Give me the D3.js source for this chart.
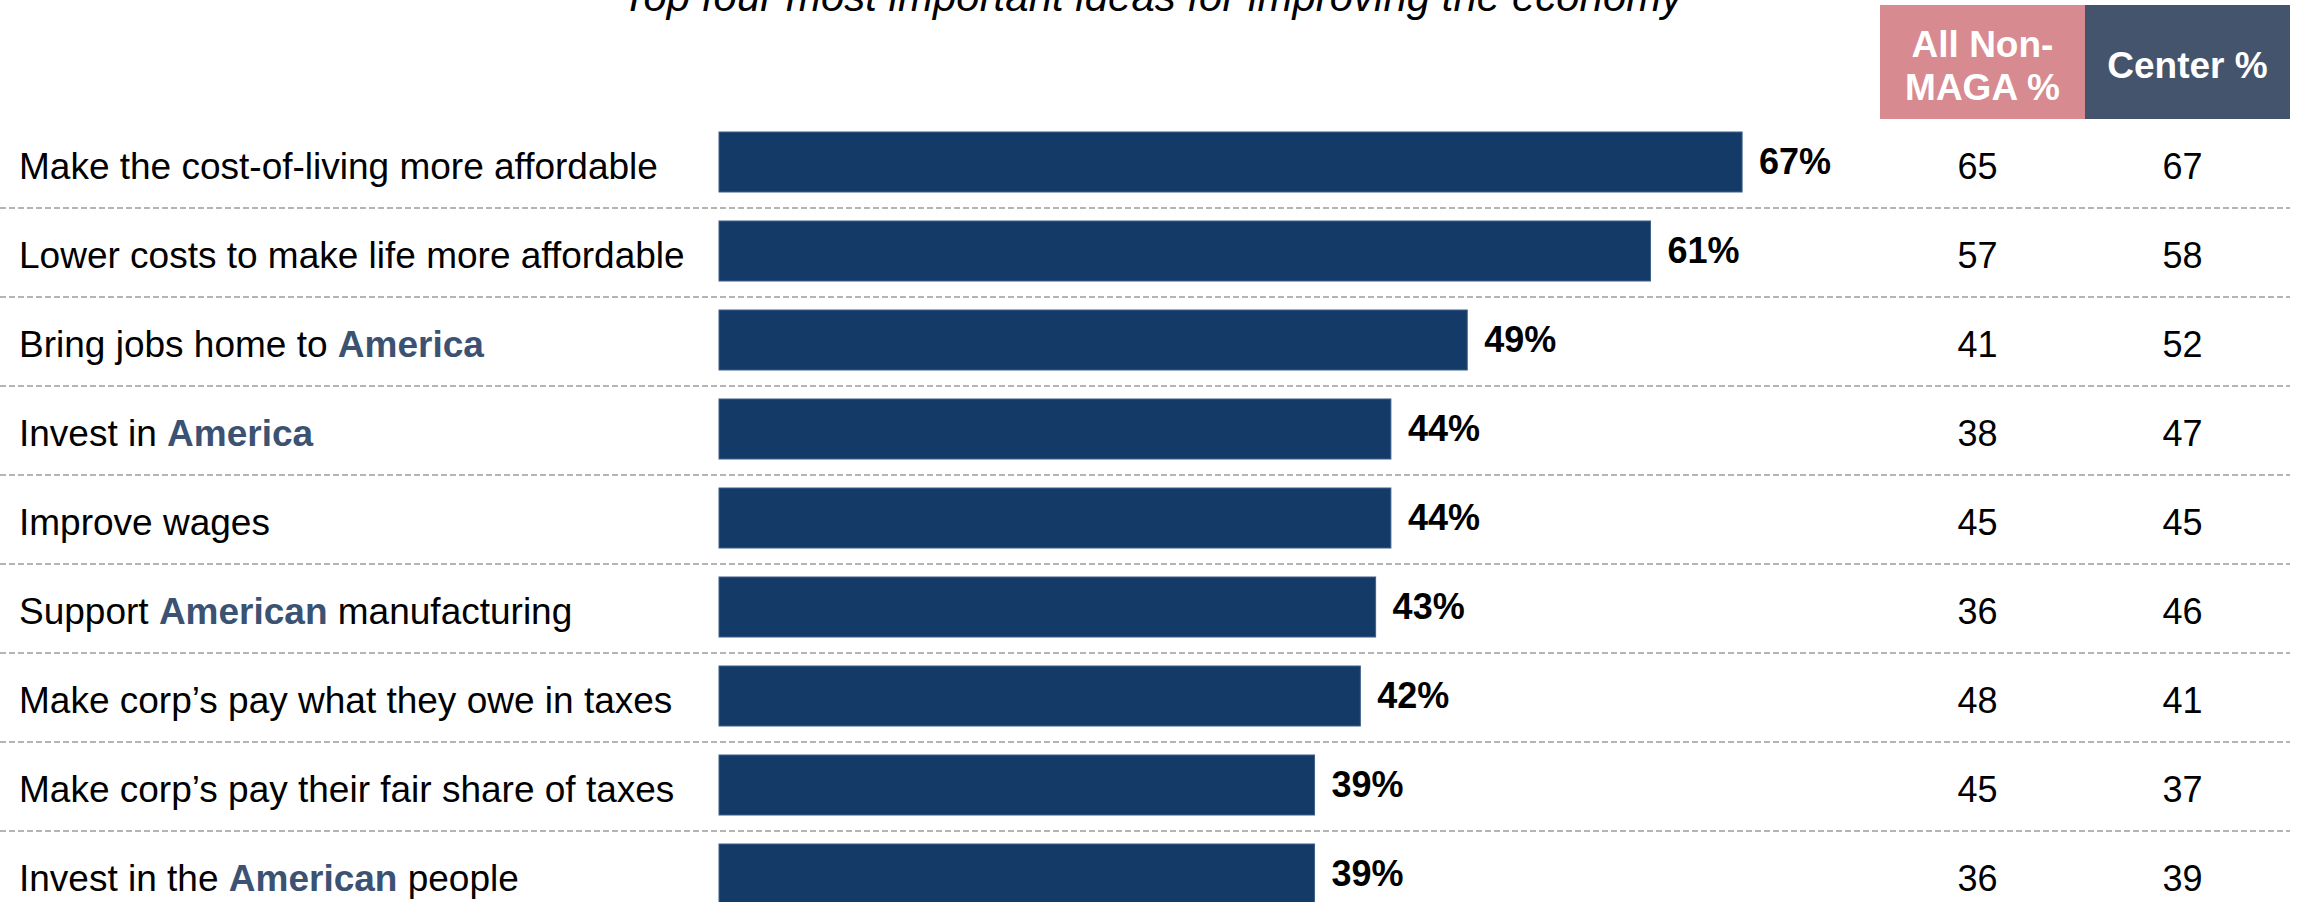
<!DOCTYPE html>
<html>
<head>
<meta charset="utf-8">
<script src="https://cdn.jsdelivr.net/npm/d3@7"></script>
<style>
  html, body { margin: 0; padding: 0; background: #fff; overflow: hidden; }
  svg { display: block; font-family: "Liberation Sans", Arial, sans-serif; }
</style>
</head>
<body>
<svg id="chart" width="2301" height="902"></svg>
<script>
// Survey items; words wrapped in *...* are drawn bold in the accent colour
const items = [
  "Make the cost-of-living more affordable",
  "Lower costs to make life more affordable",
  "Bring jobs home to *America*",
  "Invest in *America*",
  "Improve wages",
  "Support *American* manufacturing",
  "Make corp\u2019s pay what they owe in taxes",
  "Make corp\u2019s pay their fair share of taxes",
  "Invest in the *American* people"
];
// Share choosing each idea among the top four (bars)
const totalPct = [67, 61, 49, 44, 44, 43, 42, 39, 39];
// Side table columns
const columns = ["All Non-MAGA %", "Center %"];
const columnLines = [["All Non-", "MAGA %"], ["Center %"]];
const nonMagaPct = [65, 57, 41, 38, 45, 36, 48, 45, 36];
const centerPct = [67, 58, 52, 47, 45, 46, 41, 37, 39];
const title = "Top four most important ideas for improving the economy";

const W = 2301, H = 902;
const svg = d3.select("#chart");

const barColor = "#143a68";
const accent = "#3b5273";
const headerColors = ["#d78a90", "#44546c"];

const x = d3.scaleLinear().domain([0, 100]).range([719, 2246]);
const y = d3.scaleBand()
  .domain(d3.range(items.length))
  .range([117.5, 918.5])
  .paddingInner(29 / 89)
  .paddingOuter(29 / 178);
const col = d3.scaleBand().domain(columns).range([1880, 2290]);

// Title
svg.append("text")
  .attr("x", 1152).attr("y", 11)
  .attr("text-anchor", "middle")
  .attr("font-size", 42)
  .attr("font-style", "italic")
  .attr("fill", "#000")
  .text(title);

// Column headers
const head = svg.append("g");
head.selectAll("rect").data(columns).join("rect")
  .attr("x", d => col(d)).attr("y", 5)
  .attr("width", col.bandwidth()).attr("height", 114)
  .attr("fill", (d, i) => headerColors[i]);
head.selectAll("text").data(columns).join("text")
  .attr("x", d => col(d) + col.bandwidth() / 2)
  .attr("text-anchor", "middle")
  .attr("font-size", 37).attr("font-weight", "bold").attr("fill", "#fff")
  .each(function (d, i) {
    const lines = columnLines[i];
    const base = lines.length === 1 ? 78 : 57;
    d3.select(this).selectAll("tspan").data(lines).join("tspan")
      .attr("x", col(d) + col.bandwidth() / 2)
      .attr("y", (l, j) => base + j * 42.5)
      .text(l => l);
  });

// Dashed row separators
svg.append("g").selectAll("line").data(d3.range(items.length - 1)).join("line")
  .attr("x1", 0).attr("x2", 2290)
  .attr("y1", i => y(i) + y.bandwidth() + 16)
  .attr("y2", i => y(i) + y.bandwidth() + 16)
  .attr("stroke", "#b4b4b4").attr("stroke-width", 2)
  .attr("stroke-dasharray", "6 3");

// Bars
svg.append("g").selectAll("rect").data(totalPct).join("rect")
  .attr("x", x(0))
  .attr("y", (d, i) => y(i))
  .attr("width", d => x(d) - x(0))
  .attr("height", y.bandwidth())
  .attr("fill", barColor)
  .attr("stroke", "#3d5f8a").attr("stroke-width", 1);

// Bar value labels
svg.append("g").selectAll("text").data(totalPct).join("text")
  .attr("x", d => x(d) + 17)
  .attr("y", (d, i) => y(i) + y.bandwidth() / 2 + 12)
  .attr("font-size", 36).attr("font-weight", "bold").attr("fill", "#000")
  .text(d => d + "%");

// Item labels with highlighted words
svg.append("g").selectAll("text").data(items).join("text")
  .attr("x", 19)
  .attr("y", (d, i) => y(i) + y.bandwidth() / 2 + 17)
  .attr("font-size", 37).attr("fill", "#000")
  .each(function (d) {
    const parts = d.split("*").filter(p => p.length);
    const flags = d.split("*").map((p, k) => k % 2 === 1).filter((f, k) => d.split("*")[k].length);
    d3.select(this).selectAll("tspan").data(parts).join("tspan")
      .attr("font-weight", (p, k) => flags[k] ? "bold" : null)
      .attr("fill", (p, k) => flags[k] ? accent : null)
      .style("white-space", "pre")
      .text(p => p);
  })
  .attr("xml:space", "preserve");

// Side table values
const tableSeries = [nonMagaPct, centerPct];
columns.forEach((c, ci) => {
  svg.append("g").selectAll("text").data(tableSeries[ci]).join("text")
    .attr("x", col(c) + col.bandwidth() / 2 - 5)
    .attr("y", (d, i) => y(i) + y.bandwidth() / 2 + 17)
    .attr("text-anchor", "middle")
    .attr("font-size", 36).attr("fill", "#000")
    .text(d => d);
});
</script>
</body>
</html>
